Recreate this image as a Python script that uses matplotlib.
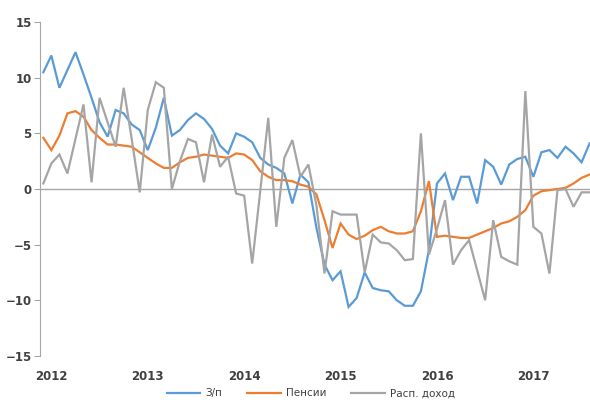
import matplotlib
matplotlib.use("Agg")
import matplotlib.pyplot as plt

# monthly series, Dec 2011 .. Aug 2017 (69 points)
wages = [10.5, 12.0, 9.1, 10.7, 12.3, 10.3, 8.2, 6.0, 4.7, 7.1, 6.8, 5.8,
         5.3, 3.5, 5.5, 8.2, 4.8, 5.3, 6.2, 6.8, 6.3, 5.4, 3.9, 3.2,
         5.0, 4.7, 4.2, 2.8, 2.2, 1.9, 1.4, -1.3, 1.3, 0.6, -3.5, -6.8,
         -8.2, -7.4, -10.6, -9.8, -7.5, -8.9, -9.1, -9.2, -10.0, -10.5, -10.5, -9.2,
         -5.5, 0.5, 1.4, -1.0, 1.1, 1.1, -1.3, 2.6, 2.0, 0.4, 2.2, 2.7,
         2.9, 1.1, 3.3, 3.5, 2.8, 3.8, 3.2, 2.4, 4.1]
pensions = [4.6, 3.5, 4.8, 6.8, 7.0, 6.5, 5.3, 4.6, 4.0, 4.0, 3.9, 3.8,
            3.3, 2.8, 2.3, 1.9, 1.9, 2.4, 2.8, 2.9, 3.1, 3.0, 2.9, 2.8,
            3.2, 3.1, 2.6, 1.6, 1.1, 0.8, 0.8, 0.7, 0.4, 0.2, -0.5, -2.8,
            -5.3, -3.1, -4.1, -4.5, -4.2, -3.7, -3.4, -3.8, -4.0, -4.0, -3.8, -2.0,
            0.7, -4.3, -4.2, -4.3, -4.4, -4.4, -4.1, -3.8, -3.5, -3.1, -2.9, -2.5,
            -1.9, -0.6, -0.2, -0.1, 0.0, 0.1, 0.5, 1.0, 1.3]
income = [0.5, 2.3, 3.1, 1.4, 4.5, 7.6, 0.6, 8.2, 6.0, 3.8, 9.1, 4.5,
          -0.3, 7.1, 9.6, 9.1, 0.0, 2.5, 4.5, 4.2, 0.6, 4.9, 2.0, 2.9,
          -0.4, -0.6, -6.7, -0.2, 6.4, -3.4, 2.8, 4.4, 1.1, 2.2, -1.5, -7.6,
          -2.0, -2.3, -2.3, -2.3, -7.5, -4.1, -4.8, -4.9, -5.5, -6.4, -6.3, 5.0,
          -5.9, -3.6, -1.0, -6.8, -5.5, -4.6, -7.3, -10.0, -2.8, -6.1, -6.5, -6.8,
          8.8, -3.4, -4.0, -7.6, -0.1, 0.0, -1.6, -0.3, -0.3]
years = ["2012", "2013", "2014", "2015", "2016", "2017"]
labels = ["З/п", "Пенсии", "Расп. доход"]

COLORS = ["#5B9BD5", "#ED7D31", "#A5A5A5"]
TEXT = "#404040"

fig = plt.figure(figsize=(5.9, 4.03), dpi=100)
ax = fig.add_axes([0.068, 0.117, 0.932, 0.828])

x = list(range(len(wages)))
for series, name, color in zip([wages, pensions, income], labels, COLORS):
    ax.plot(x, series, color=color, linewidth=1.6, label=name, solid_joinstyle="miter")

ax.axhline(0, color="#A6A6A6", linewidth=1.0, zorder=0)

ax.set_xlim(-0.4, 68.05)
ax.set_ylim(-15, 15)
ax.set_yticks([-15, -10, -5, 0, 5, 10, 15])
ax.set_xticks([12 * k + 1 for k in range(len(years))])
ax.set_xticklabels(years)

for side in ["top", "right", "bottom"]:
    ax.spines[side].set_visible(False)
ax.spines["left"].set_color("#A6A6A6")
ax.tick_params(axis="y", length=4, color="#A6A6A6", labelsize=8.5,
               labelcolor=TEXT, pad=2)
ax.tick_params(axis="x", length=0, labelsize=8.5, labelcolor=TEXT, pad=10)
for lab in ax.get_xticklabels() + ax.get_yticklabels():
    lab.set_fontweight("bold")

fig.legend(loc="lower center", bbox_to_anchor=(0.527, -0.012), ncol=3,
           frameon=False, fontsize=7.5, handlelength=3.2, handletextpad=0.5,
           columnspacing=2.4, labelcolor=TEXT)

fig.savefig("out.png", dpi=100)
